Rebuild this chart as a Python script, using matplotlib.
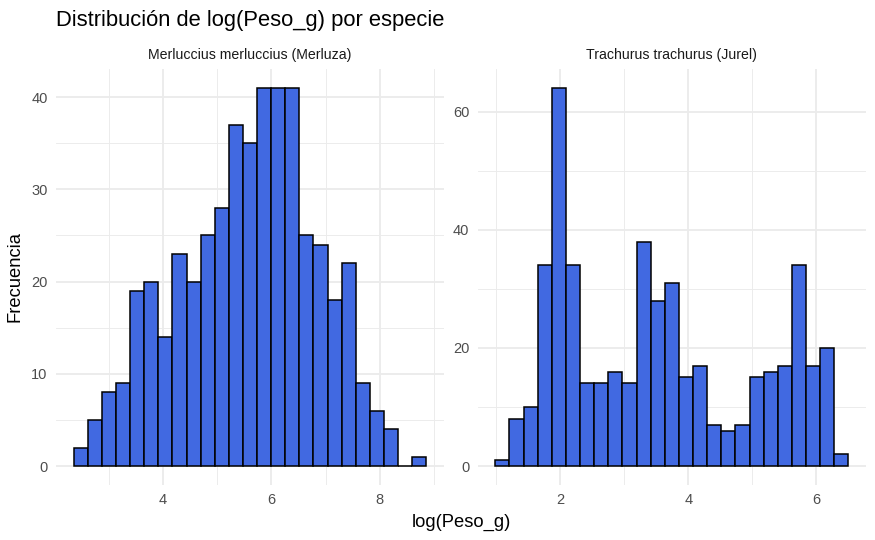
#----------------------------------------------------------------------------------------------------------------------
# Imports

import numpy as np
import matplotlib
matplotlib.use("Agg")
import matplotlib.pyplot as plt

#----------------------------------------------------------------------------------------------------------------------
# Data

especies = ["Merluccius merluccius (Merluza)", "Trachurus trachurus (Jurel)"]

merluza_inicio = 2.354
merluza_ancho = 0.2602
merluza_cuentas = [2, 5, 8, 9, 19, 20, 14, 23, 20, 25, 28, 37, 35, 41, 41, 41, 25, 24, 18, 22, 9, 6, 4, 0, 1]

jurel_inicio = 0.986
jurel_ancho = 0.2205
jurel_cuentas = [1, 8, 10, 34, 64, 34, 14, 14, 16, 14, 38, 28, 31, 15, 17, 7, 6, 7, 15, 16, 17, 34, 17, 20, 2]

merluza_xticks = [4, 6, 8]
merluza_yticks = [0, 10, 20, 30, 40]
jurel_xticks = [2, 4, 6]
jurel_yticks = [0, 20, 40, 60]

#----------------------------------------------------------------------------------------------------------------------
# Style

plt.rcParams['font.family'] = ['Liberation Sans', 'DejaVu Sans']
grid_col = "#EBEBEB"
fill_col = "#4169E1"

W, H = 875, 540
fig = plt.figure(figsize=(W / 100, H / 100), dpi=100)

def frac_box(x0, y0, x1, y1):
    return [x0 / W, 1 - y1 / H, (x1 - x0) / W, (y1 - y0) / H]

def panel(box, inicio, ancho, cuentas, xticks, yticks, titulo):
    ax = fig.add_axes(box)
    cuentas = np.array(cuentas)
    lefts = inicio + ancho * np.arange(len(cuentas))
    ax.bar(lefts, cuentas, width=ancho, align="edge", color=fill_col,
           edgecolor="black", linewidth=1.1, zorder=3)

    ax.set_xticks(xticks)
    ax.set_yticks(yticks)
    step_x = xticks[1] - xticks[0]
    step_y = yticks[1] - yticks[0]
    ax.set_xticks(np.arange(xticks[0] - step_x * 1.5, xticks[-1] + step_x, step_x), minor=True)
    ax.set_yticks(np.arange(yticks[0] + step_y / 2, yticks[-1] + step_y, step_y), minor=True)
    ax.set_xticklabels([str(v) for v in xticks])
    ax.set_yticklabels([str(v) for v in yticks])

    # ggplot-like 5% expansion, set after the ticks so they do not widen it
    x0, x1 = lefts[0], lefts[-1] + ancho
    pad = 0.05 * (x1 - x0)
    ax.set_xlim(x0 - pad, x1 + pad)
    ymax = cuentas.max()
    ax.set_ylim(-0.05 * ymax, 1.05 * ymax)

    ax.grid(which="major", color=grid_col, linewidth=1.3, zorder=0)
    ax.grid(which="minor", color=grid_col, linewidth=0.65, zorder=0)
    ax.set_axisbelow(True)
    for s in ax.spines.values():
        s.set_visible(False)
    ax.tick_params(which="both", length=0, labelsize=10.5, colors="#4D4D4D", pad=6)
    ax.set_title(titulo, fontsize=10.2, color="#1A1A1A", pad=7.5)
    return ax

panel(frac_box(56, 69, 444, 485), merluza_inicio, merluza_ancho, merluza_cuentas,
      merluza_xticks, merluza_yticks, especies[0])
panel(frac_box(477.7, 69, 866, 485), jurel_inicio, jurel_ancho, jurel_cuentas,
      jurel_xticks, jurel_yticks, especies[1])

fig.text(56 / W, 1 - 26 / H, "Distribución de log(Peso_g) por especie", fontsize=15.8,
         ha="left", va="baseline", color="black")
fig.text((56 + 866) / 2 / W, 1 - 527 / H, "log(Peso_g)", fontsize=13.2,
         ha="center", va="baseline", color="black")
fig.text(24 / W, 1 - 277 / H, "Frecuencia", fontsize=13.2, rotation=90,
         ha="right", va="center", color="black")

fig.savefig("out.png", dpi=100, facecolor="white")
